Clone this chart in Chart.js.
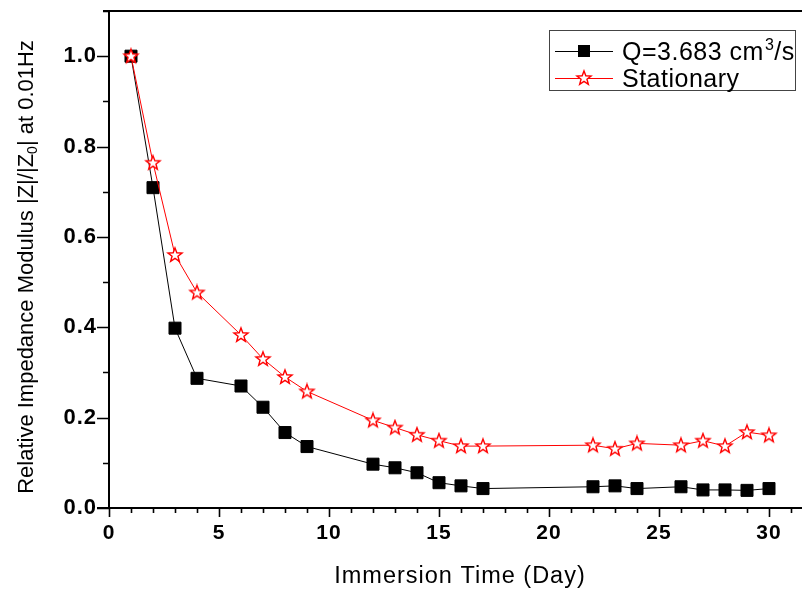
<!DOCTYPE html>
<html>
<head>
<meta charset="utf-8">
<script src="https://cdn.jsdelivr.net/npm/chart.js@4.4.1/dist/chart.umd.min.js"></script>
<style>
  html, body { margin: 0; padding: 0; background: #fff; }
  #wrap { width: 805px; height: 590px; }
</style>
</head>
<body>
<div id="wrap"><canvas id="myChart" width="805" height="590"></canvas></div>
<script>
// data
const days = [1, 2, 3, 4, 6, 7, 8, 9, 12, 13, 14, 15, 16, 17, 22, 23, 24, 26, 27, 28, 29, 30];
const flowValues = [1.0, 0.709, 0.398, 0.287, 0.270, 0.223, 0.167, 0.136, 0.097, 0.089, 0.078,
  0.056, 0.049, 0.043, 0.047, 0.049, 0.043, 0.047, 0.040, 0.040, 0.039, 0.043];
const stationaryValues = [1.0, 0.764, 0.560, 0.477, 0.383, 0.330, 0.290, 0.258, 0.194, 0.178, 0.162,
  0.149, 0.137, 0.137, 0.139, 0.131, 0.143, 0.139, 0.149, 0.137, 0.168, 0.161];
const seriesLabels = ['Q=3.683 cm^3/s', 'Stationary'];
const xTickValues = [0, 5, 10, 15, 20, 25, 30];
const yTickValues = [0, 0.2, 0.4, 0.6, 0.8, 1.0];
const xTitle = 'Immersion Time (Day)';
const yTitle = ['Relative Impedance Modulus |Z|/|Z', '0', '| at 0.01Hz'];

const ctx = document.getElementById('myChart').getContext('2d');

// open five point star used as point style
const makeStar = () => {
  const c = document.createElement('canvas');
  c.width = 18;
  c.height = 18;
  const g = c.getContext('2d');
  const cx = 9, cy = 9.3, ro = 7.4, ri = 3.1;
  g.beginPath();
  for (let i = 0; i < 10; i++) {
    const r = i % 2 === 0 ? ro : ri;
    const a = -Math.PI / 2 + i * Math.PI / 5;
    const px = cx + r * Math.cos(a);
    const py = cy + r * Math.sin(a);
    if (i === 0) g.moveTo(px, py); else g.lineTo(px, py);
  }
  g.closePath();
  g.fillStyle = '#fff';
  g.fill();
  g.strokeStyle = '#ff0000';
  g.lineWidth = 1.4;
  g.stroke();
  return c;
};
const starImg = makeStar();

const toPoints = (vals) => days.map((d, i) => ({ x: d, y: vals[i] }));

// tick labels in the original are spaced out a little
const spacingPlugin = {
  id: 'spacing',
  beforeDraw(chart) { chart.ctx.letterSpacing = '1px'; },
  afterDatasetsDraw(chart) { chart.ctx.letterSpacing = '0px'; }
};

// hand drawn frame, ticks, titles and legend
const framePlugin = {
  id: 'frame',
  afterDraw(chart) {
    const c = chart.ctx;
    const a = chart.chartArea;
    const xs = chart.scales.x;
    const ys = chart.scales.y;
    c.save();
    c.letterSpacing = '0px';
    c.strokeStyle = '#000';
    c.lineWidth = 2;
    c.beginPath();
    c.moveTo(a.left, a.top);
    c.lineTo(a.left, a.bottom);
    c.moveTo(a.left - 6, a.top);
    c.lineTo(a.right, a.top);
    c.moveTo(a.left - 12, a.bottom);
    c.lineTo(a.right, a.bottom);
    c.stroke();

    c.lineWidth = 1.6;
    c.beginPath();
    for (let i = 0; i <= 11; i++) {
      const v = i / 10;
      const py = Math.round(ys.getPixelForValue(v)) + 0.5;
      const len = i % 2 === 0 ? 12 : 6;
      c.moveTo(a.left - len, py);
      c.lineTo(a.left, py);
    }
    for (let v = 0; v <= 31; v++) {
      const px = Math.round(xs.getPixelForValue(v)) + 0.5;
      const len = v % 5 === 0 ? 9 : 5;
      c.moveTo(px, a.bottom);
      c.lineTo(px, a.bottom + len);
    }
    c.stroke();

    // axis titles
    c.fillStyle = '#000';
    c.font = '23.5px "Liberation Sans", Arial, sans-serif';
    c.letterSpacing = '1px';
    c.textAlign = 'center';
    c.textBaseline = 'alphabetic';
    c.fillText(xTitle, 460, 583);
    c.letterSpacing = '0px';

    c.save();
    c.translate(33, 267);
    c.rotate(-Math.PI / 2);
    const mainFont = '22px "Liberation Sans", Arial, sans-serif';
    const subFont = '14px "Liberation Sans", Arial, sans-serif';
    c.font = mainFont;
    const w0 = c.measureText(yTitle[0]).width;
    const w2 = c.measureText(yTitle[2]).width;
    c.font = subFont;
    const w1 = c.measureText(yTitle[1]).width;
    let tx = -(w0 + w1 + w2) / 2;
    c.textAlign = 'left';
    c.font = mainFont;
    c.fillText(yTitle[0], tx, 0);
    tx += w0;
    c.font = subFont;
    c.fillText(yTitle[1], tx, 4);
    tx += w1;
    c.font = mainFont;
    c.fillText(yTitle[2], tx, 0);
    c.restore();

    // legend
    const lx = 549.5, ly = 30.5, lw = 246, lh = 60;
    c.strokeStyle = '#444';
    c.lineWidth = 1;
    c.strokeRect(lx, ly, lw, lh);
    chart.data.datasets.forEach((ds, i) => {
      const rowY = 51 + i * 27;
      c.strokeStyle = ds.borderColor;
      c.lineWidth = 1;
      c.beginPath();
      c.moveTo(555, rowY + 0.5);
      c.lineTo(613, rowY + 0.5);
      c.stroke();
      if (ds.pointStyle === 'rect') {
        c.fillStyle = ds.pointBackgroundColor;
        c.fillRect(578, rowY - 6, 12, 12);
      } else {
        c.drawImage(ds.pointStyle, 584 - 9, rowY - 9);
      }
      c.fillStyle = '#000';
      c.textAlign = 'left';
      c.letterSpacing = '0.5px';
      const parts = ds.label.split(/\^(\S)/);
      let px = 622;
      parts.forEach((p, k) => {
        if (k % 2 === 1) {
          c.font = '16px "Liberation Sans", Arial, sans-serif';
          c.fillText(p, px + 1, rowY - 1);
          px += c.measureText(p).width + 1;
        } else {
          c.font = '25px "Liberation Sans", Arial, sans-serif';
          c.fillText(p, px, rowY + 9);
          px += c.measureText(p).width;
        }
      });
      c.letterSpacing = '0px';
    });
    c.restore();
  }
};

new Chart(ctx, {
  type: 'line',
  data: {
    datasets: [
      {
        label: seriesLabels[0],
        data: toPoints(flowValues),
        borderColor: '#000000',
        backgroundColor: '#000000',
        pointBackgroundColor: '#000000',
        pointBorderColor: '#000000',
        pointStyle: 'rect',
        pointRadius: 8.5,
        borderWidth: 1,
        order: 2
      },
      {
        label: seriesLabels[1],
        data: toPoints(stationaryValues),
        borderColor: '#ff0000',
        backgroundColor: '#ff0000',
        pointStyle: starImg,
        pointRadius: 8,
        borderWidth: 1,
        order: 1
      }
    ]
  },
  options: {
    responsive: false,
    animation: false,
    devicePixelRatio: 1,
    layout: { autoPadding: false, padding: { top: 11, right: 3, left: 0, bottom: 0 } },
    plugins: {
      legend: { display: false },
      tooltip: { enabled: false }
    },
    scales: {
      x: {
        type: 'linear',
        min: 0,
        max: 31.5,
        afterFit: (s) => {
          s.height = 82;
          s.paddingLeft = 0;
          s.paddingRight = 0;
        },
        afterBuildTicks: (s) => { s.ticks = xTickValues.map(v => ({ value: v })); },
        grid: { display: false, drawTicks: false },
        border: { display: false },
        ticks: {
          padding: 13,
          color: '#000',
          font: { family: '"Liberation Sans", Arial, sans-serif', size: 21, weight: 'bold' },
          callback: (v) => String(v)
        }
      },
      y: {
        type: 'linear',
        min: 0,
        max: 1.1,
        afterFit: (s) => {
          s.width = 109;
          s.paddingTop = 0;
          s.paddingBottom = 0;
        },
        afterBuildTicks: (s) => { s.ticks = yTickValues.map(v => ({ value: v })); },
        grid: { display: false, drawTicks: false },
        border: { display: false },
        ticks: {
          padding: 12,
          color: '#000',
          font: { family: '"Liberation Sans", Arial, sans-serif', size: 22, weight: 'bold' },
          callback: (v) => Number(v).toFixed(1)
        }
      }
    }
  },
  plugins: [spacingPlugin, framePlugin]
});
</script>
</body>
</html>
